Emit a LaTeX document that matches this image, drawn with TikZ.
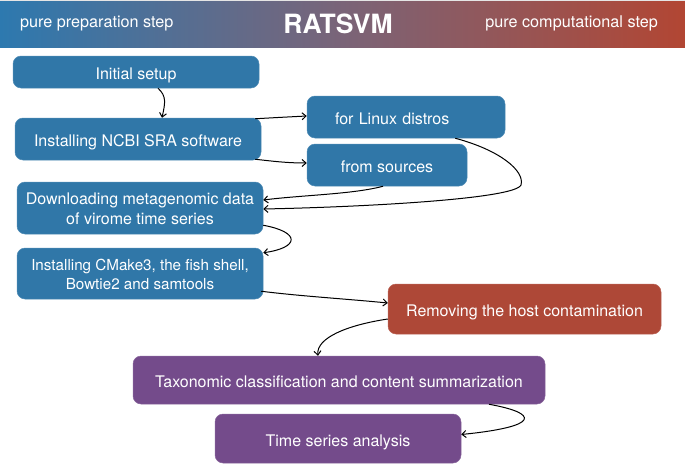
\documentclass[tikz,border=0pt]{standalone}
\usepackage{fontspec}
\setmainfont{TeX Gyre Heros}
\usetikzlibrary{arrows.meta,calc}
\definecolor{cblue}{HTML}{3077A8}
\definecolor{cred}{HTML}{AE4837}
\definecolor{cpurple}{HTML}{744B8B}
\definecolor{hleft}{HTML}{2D79AF}
\definecolor{hmid}{HTML}{7A6478}
\definecolor{hright}{HTML}{B24633}
\begin{document}
\begin{tikzpicture}[x=1pt,y=-1pt,
  box/.style={rounded corners=8pt, text=white, font=\fontsize{16}{19.5}\selectfont, align=center, inner sep=0pt},
  oneline/.style={text height=15pt, text depth=0pt},
  bluebox/.style={box, fill=cblue, draw=cblue!85!white, line width=0.5pt},
  redbox/.style={box, fill=cred, draw=cred!85!white, line width=0.5pt},
  purplebox/.style={box, fill=cpurple, draw=cpurple!85!white, line width=0.5pt},
  conn/.style={line width=1pt, -{Straight Barb[length=4pt,width=7pt]}},
  hdr/.style={text=white, font=\fontsize{16.2}{19}\selectfont, inner sep=0pt, text depth=0pt}
]
\useasboundingbox (0,0) rectangle (685,463);
% header band
\shade[left color=hleft, right color=hright, middle color=hmid] (0,0) rectangle (685,47);
\draw[white!80!gray, line width=0.8pt] (0,0.4) -- (685,0.4);
\node[hdr, anchor=west] (lhdr) at (20,22) {pure preparation step};
\node[hdr, anchor=east] (rhdr) at (658,22) {pure computational step};
\node[text=white, font=\fontsize{26.5}{30}\bfseries\selectfont, inner sep=0pt, text depth=0pt] (title) at (338,24) {RATSVM};

% boxes
\node[bluebox, oneline, minimum width=246, minimum height=32] (init) at (136,72) {Initial setup};
\node[bluebox, oneline, minimum width=246, minimum height=42] (ncbi) at (138,139) {Installing NCBI SRA software};
\node[bluebox, oneline, text width=142, inner xsep=28, align=left, minimum height=42] (linux) at (406,117) {for Linux distros};
\node[bluebox, oneline, minimum width=160, minimum height=42] (src) at (387,165) {from sources};
\node[bluebox, minimum width=246, minimum height=52] (down) at (140,208) {\raisebox{-2.5pt}[\height][\depth]{\begin{tabular}{@{}c@{}}Downloading metagenomic data\\of virome time series\end{tabular}}};
\node[bluebox, minimum width=246, minimum height=51, font=\fontsize{15.2}{19.5}\selectfont] (cmake) at (140,273.5) {\raisebox{-2.5pt}[\height][\depth]{\begin{tabular}{@{}c@{}}Installing CMake3, the fish shell,\\Bowtie2 and samtools\end{tabular}}};
\node[redbox, oneline, minimum width=273, minimum height=50] (host) at (524.5,309) {Removing the host contamination};
\node[purplebox, oneline, minimum width=412, minimum height=48] (tax) at (339,380) {Taxonomic classification and content summarization};
\node[purplebox, oneline, minimum width=246, minimum height=49] (time) at (338,438.5) {Time series analysis};

% connectors
\draw[conn] ([xshift=22]init.south) .. controls +(9,8) and +(3,-14) .. ([xshift=24]ncbi.north);
\draw[conn] ($(ncbi.north east)+(-6,1)$) .. controls +(18,-1) and +(-20,1) .. ($(linux.west)+(0,-1)$);
\draw[conn] ($(ncbi.south east)+(-6,-1)$) .. controls +(18,2) and +(-20,0) .. ($(src.west)+(0,-2)$);
\draw[conn] ([xshift=-4]src.south) .. controls +(-30,8) and +(40,-5) .. ($(down.east)+(0,-8)$);
\draw[conn] ($(linux.south east)+(-50,0)$) .. controls +(45,12) and +(4,-14) .. (521,185)
   .. controls +(-6,14) and +(100,-2) .. ($(down.east)+(0,1)$);
\draw[conn] ($(down.south east)+(0,-9)$) .. controls +(38,7) and +(36,-5) .. ($(cmake.north east)+(0,5)$);
\draw[conn] ($(cmake.south east)+(-2,-8)$) .. controls +(40,5) and +(-40,-4) .. ($(host.west)+(0,-6)$);
\draw[conn] ($(host.west)+(0,10)$) .. controls +(-40,6) and +(-2,-18) .. ([xshift=-21]tax.north);
\draw[conn] ([xshift=150]tax.south) .. controls +(50,9) and +(80,-8) .. ($(time.east)+(0,-4)$);
\end{tikzpicture}
\end{document}
